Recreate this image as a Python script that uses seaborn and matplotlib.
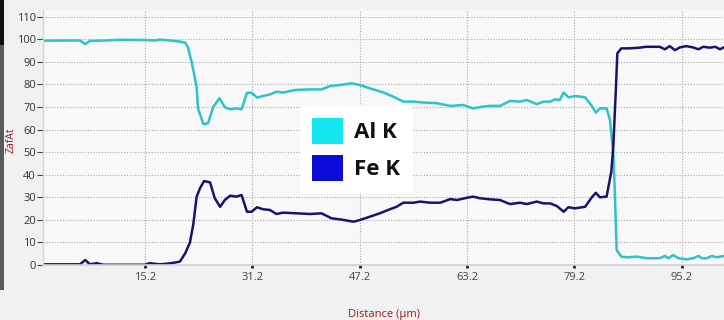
import numpy as np
import pandas as pd
import matplotlib
matplotlib.use("Agg")
import matplotlib.pyplot as plt
from matplotlib.patches import Patch, Rectangle
import seaborn as sns

# Line-scan profile: Al K
al_dist = [0.0, 5.5, 6.3, 7.0, 8.5, 11.5, 15.2, 16.7, 17.4, 18.9, 20.4, 21.2, 21.6,
           22.2, 22.9, 23.1, 23.9, 24.6, 25.4, 26.3, 27.1, 27.9, 28.9, 29.6, 30.4,
           31.1, 31.9, 32.8, 33.8, 34.8, 35.8, 36.8, 37.8, 39.8, 41.5, 42.8, 44.3,
           46.0, 47.2, 48.7, 50.7, 52.2, 53.7, 55.2, 56.7, 58.7, 60.7, 62.6, 64.1,
           65.6, 66.6, 68.1, 69.6, 71.1, 72.1, 73.6, 74.6, 75.6, 76.3, 77.0, 77.6,
           78.3, 79.3, 80.8, 81.8, 82.4, 83.0, 84.0, 84.5, 85.0, 85.2, 85.5, 86.2,
           87.0, 88.5, 90.0, 91.9, 92.7, 93.2, 93.9, 94.7, 95.9, 96.9, 97.7, 98.2,
           98.9, 99.7, 100.4, 101.4]
al_k = [99.4, 99.5, 97.9, 99.3, 99.4, 99.8, 99.7, 99.5, 99.9, 99.5, 99.0, 98.5, 96.5,
        89.4, 79.0, 69.4, 62.5, 62.8, 70.2, 73.9, 69.9, 69.0, 69.4, 69.0, 76.3,
        76.3, 74.2, 74.9, 75.6, 76.8, 76.4, 77.1, 77.6, 77.8, 77.8, 79.3, 79.8,
        80.5, 79.8, 78.3, 76.5, 74.6, 72.4, 72.4, 72.0, 71.7, 70.5, 70.9, 69.4,
        70.2, 70.5, 70.5, 72.7, 72.4, 73.1, 71.3, 72.4, 72.4, 73.4, 73.1, 76.4,
        74.3, 74.9, 74.3, 70.5, 67.5, 69.4, 69.4, 64.3, 49.5, 34.7, 6.6, 3.7,
        3.4, 3.7, 3.0, 3.0, 4.0, 3.0, 4.4, 3.0, 2.5, 3.0, 4.0, 3.0,
        3.0, 4.0, 3.4, 4.0]

# Line-scan profile: Fe K
fe_dist = [0.0, 5.5, 6.3, 7.0, 8.0, 9.0, 15.2, 15.9, 17.4, 18.9, 20.4, 21.2, 21.9,
           22.4, 22.9, 23.4, 24.0, 24.9, 25.6, 26.4, 27.1, 27.9, 28.8, 29.6, 30.4,
           31.1, 31.9, 32.8, 33.8, 34.8, 35.8, 37.8, 39.8, 41.5, 43.0, 44.3, 46.3,
           47.2, 48.7, 50.2, 51.7, 52.7, 53.7, 55.2, 56.2, 57.7, 59.2, 60.7, 61.7,
           63.2, 64.1, 65.1, 66.6, 68.1, 69.6, 71.1, 72.1, 73.6, 74.6, 75.6, 76.6,
           77.6, 78.3, 79.3, 80.8, 81.8, 82.4, 83.0, 84.0, 84.7, 85.0, 85.4, 85.6,
           86.2, 87.4, 88.9, 89.9, 91.9, 92.7, 93.4, 94.2, 94.9, 95.9, 96.9, 97.7,
           98.4, 99.4, 100.2, 100.9, 101.5]
fe_k = [0.3, 0.3, 2.2, 0.3, 0.8, 0.1, 0.1, 0.8, 0.3, 0.7, 1.5, 5.2, 10.0,
        18.0, 30.3, 34.0, 37.2, 36.6, 29.6, 25.8, 28.8, 30.7, 30.3, 31.0, 23.6,
        23.6, 25.6, 24.7, 24.4, 22.6, 23.2, 22.9, 22.6, 22.9, 20.7, 20.2, 19.2,
        19.9, 21.4, 22.9, 24.7, 25.8, 27.6, 27.6, 28.1, 27.6, 27.6, 29.2, 28.8,
        29.8, 30.3, 29.6, 29.1, 28.8, 27.0, 27.6, 27.0, 28.1, 27.3, 27.3, 26.1,
        23.6, 25.6, 25.1, 25.8, 30.0, 32.0, 30.0, 30.3, 41.3, 52.4, 79.0, 93.8,
        96.0, 96.0, 96.3, 96.7, 96.7, 95.6, 97.0, 95.2, 96.4, 97.0, 96.4, 95.6,
        96.7, 96.3, 96.7, 95.6, 96.5]

x_ticks = [15.2, 31.2, 47.2, 63.2, 79.2, 95.2]
x_tick_labels = ["15.2", "31.2", "47.2", "63.2", "79.2", "95.2"]
y_ticks = list(range(0, 111, 10))

series_names = ["Al K", "Fe K"]
line_colors = {"Al K": "#2cc4c6", "Fe K": "#15166b"}
legend_colors = {"Al K": "#12e6ee", "Fe K": "#0c0cd8"}

df = pd.concat([
    pd.DataFrame({"Distance": al_dist, "ZafAt": al_k, "Element": "Al K"}),
    pd.DataFrame({"Distance": fe_dist, "ZafAt": fe_k, "Element": "Fe K"}),
], ignore_index=True)

sns.set_theme(style="white")
plt.rcParams["font.family"] = ["Open Sans", "DejaVu Sans"]

W, H = 724, 320
fig = plt.figure(figsize=(W / 100, H / 100), dpi=100, facecolor="#f1f1f1")
ax = fig.add_axes([43 / W, 55 / H, 681 / W, 255 / H])
ax.set_facecolor("#f8f8f8")

sns.lineplot(data=df, x="Distance", y="ZafAt", hue="Element", palette=line_colors,
             estimator=None, sort=False, linewidth=1.8, legend=False, ax=ax)

ax.set_xlim(0, 101.5)
ax.set_ylim(0, 113)
ax.set_xticks(x_ticks)
ax.set_xticklabels(x_tick_labels)
ax.set_yticks(y_ticks)

ax.grid(True, which="major", color="#a9a9a9", linestyle=(0, (1, 1.5)), linewidth=0.8)
ax.set_axisbelow(True)

for side in ("top", "right"):
    ax.spines[side].set_visible(False)
ax.spines["left"].set_color("#d4d4d4")
ax.spines["bottom"].set_color("#d0d0d0")
ax.spines["left"].set_linewidth(1.0)
ax.spines["bottom"].set_linewidth(1.2)

ax.tick_params(axis="y", direction="out", length=4, width=0.8, color="#444444",
               labelsize=8, labelcolor="#333333", pad=1, left=True)
ax.tick_params(axis="x", direction="out", length=2, width=2, color="#222222",
               labelsize=8, labelcolor="#444444", pad=3, bottom=True)

ax.set_ylabel("ZafAt", color="#a3151f", fontsize=7.5)
ax.yaxis.set_label_coords(-26 / 681, 0.49)
ax.set_xlabel("Distance (µm)", color="#a3151f", fontsize=8, labelpad=19)

handles = [Patch(facecolor=legend_colors[n], edgecolor="none") for n in series_names]
leg = ax.legend(handles, series_names, loc="upper left",
                bbox_to_anchor=(300 / W, (H - 106) / H), bbox_transform=fig.transFigure,
                frameon=True, facecolor="white", edgecolor="none", framealpha=1.0,
                fancybox=False, prop={"weight": "bold", "size": 16},
                handlelength=1.4, handleheight=1.4, handletextpad=0.5,
                labelspacing=0.5, borderpad=0.55, borderaxespad=0)
for t in leg.get_texts():
    t.set_color("#111111")

# dark border strip along the left edge of the window
fig.add_artist(Rectangle((0, 30 / H), 4 / W, 260 / H, transform=fig.transFigure,
                         facecolor="#5a5a5a", edgecolor="none", zorder=0))
fig.add_artist(Rectangle((0, (H - 45) / H), 4 / W, 45 / H, transform=fig.transFigure,
                         facecolor="#111111", edgecolor="none", zorder=0))

fig.savefig("out.png", dpi=100, facecolor=fig.get_facecolor())
